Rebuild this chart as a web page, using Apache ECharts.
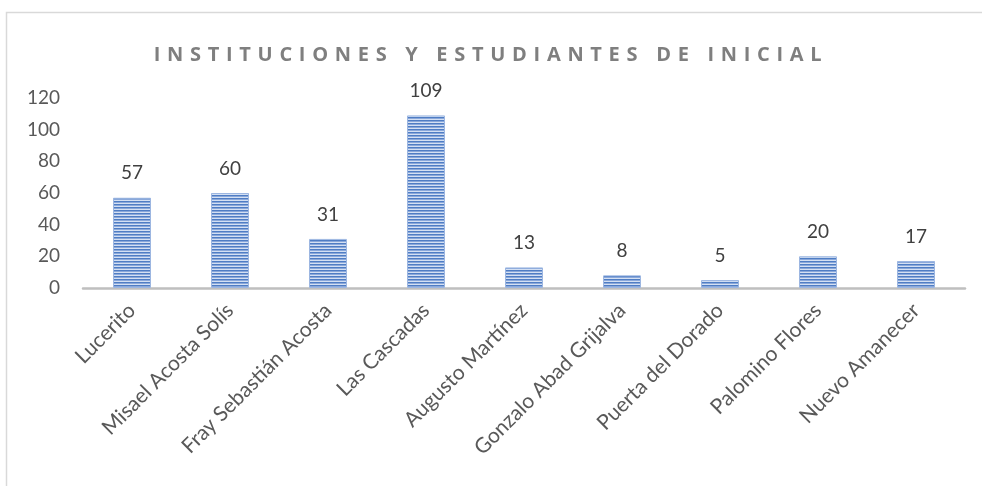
<!DOCTYPE html>
<html>
<head>
<meta charset="utf-8">
<script src="https://cdn.jsdelivr.net/npm/echarts@6/dist/echarts.min.js"></script>
<style>html,body{margin:0;padding:0;background:#fff;}#chart{width:982px;height:486px;}</style>
</head>
<body>
<div id="chart"></div>
<script>
const titleText = 'INSTITUCIONES Y ESTUDIANTES DE INICIAL';
const categories = ['Lucerito', 'Misael Acosta Solís', 'Fray Sebastián Acosta', 'Las Cascadas', 'Augusto Martínez', 'Gonzalo Abad Grijalva', 'Puerta del Dorado', 'Palomino Flores', 'Nuevo Amanecer'];
const students = [57, 60, 31, 109, 13, 8, 5, 20, 17];
const yTicks = [0, 20, 40, 60, 80, 100, 120];

// letter spacing for the title font only
(function () {
  const proto = CanvasRenderingContext2D.prototype;
  const desc = Object.getOwnPropertyDescriptor(proto, 'font');
  if (desc && 'letterSpacing' in proto) {
    Object.defineProperty(proto, 'font', {
      get: function () { return desc.get.call(this); },
      set: function (v) {
        desc.set.call(this, v);
        try { this.letterSpacing = (String(v).indexOf('TitleSpaced') >= 0) ? '6.7px' : '0px'; } catch (e) {}
      },
      configurable: true
    });
  }
})();

function stripePattern() {
  const c = document.createElement('canvas');
  c.width = 4; c.height = 3;
  const g = c.getContext('2d');
  g.fillStyle = '#4f7dc4'; g.fillRect(0, 0, 4, 1);
  g.fillStyle = '#8aa8da'; g.fillRect(0, 1, 4, 1);
  g.fillStyle = '#d4e0f3'; g.fillRect(0, 2, 4, 1);
  return c;
}

const chart = echarts.init(document.getElementById('chart'), null, { renderer: 'canvas' });
chart.setOption({
  animation: false,
  backgroundColor: '#ffffff',
  graphic: [{
    type: 'rect', left: 4, top: 10, silent: true, z: -1,
    shape: { width: 1000, height: 500 },
    style: { fill: 'none', stroke: '#d9d9d9', lineWidth: 1.5 }
  }],
  title: {
    text: titleText,
    left: 'center', top: 37,
    padding: [5, 5, 5, 23],
    textStyle: { color: '#7f7f7f', fontSize: 20, fontWeight: 'bold', fontFamily: '"Open Sans", TitleSpaced, sans-serif' }
  },
  grid: { left: 83, right: 17, top: 98, bottom: 198, containLabel: false },
  xAxis: {
    type: 'category',
    data: categories,
    axisLine: { lineStyle: { color: '#bfbfbf', width: 2.5 } },
    axisTick: { show: false },
    axisLabel: { rotate: 45, margin: 19, color: '#595959', fontSize: 21, fontFamily: 'Lato, sans-serif', interval: 0 }
  },
  yAxis: {
    type: 'value',
    min: yTicks[0], max: yTicks[yTicks.length - 1], interval: 20,
    axisLine: { show: false },
    axisTick: { show: false },
    splitLine: { show: false },
    axisLabel: { color: '#595959', fontSize: 19, margin: 23, fontFamily: 'Lato, sans-serif' }
  },
  series: [{
    type: 'bar',
    data: students,
    barWidth: 38,
    itemStyle: {
      color: { image: stripePattern(), repeat: 'repeat' },
      borderColor: '#9cb6e1', borderWidth: 1
    },
    label: {
      show: true, position: 'top', distance: 15,
      color: '#404040', fontSize: 19, fontFamily: 'Lato, sans-serif'
    }
  }]
});
</script>
</body>
</html>
